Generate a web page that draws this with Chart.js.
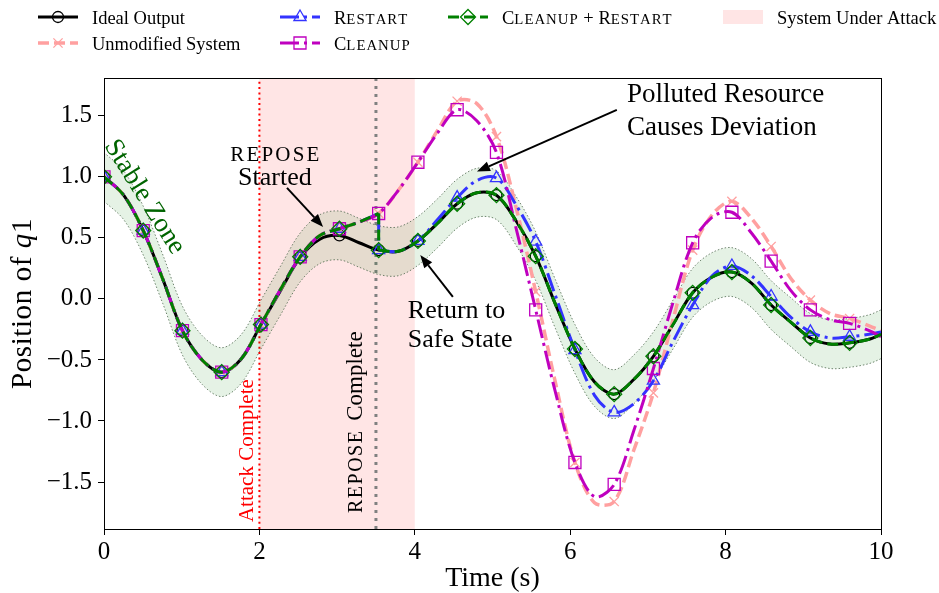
<!DOCTYPE html>
<html>
<head>
<meta charset="utf-8">
<script src="https://cdn.jsdelivr.net/npm/chart.js@4.4.1/dist/chart.umd.min.js"></script>
<style>
html,body{margin:0;padding:0;background:#fff;}
#wrap{width:939px;height:593px;position:relative;}
canvas{display:block;}
</style>
</head>
<body>
<div id="wrap"><canvas id="c" width="939" height="593"></canvas></div>
<script>
// ---------------- data ----------------
const times = [0, 0.253, 0.505, 0.758, 1.010, 1.263, 1.515, 1.768, 2.020, 2.273,
  2.525, 2.778, 3.030, 3.283, 3.535, 3.788, 4.040, 4.293, 4.545, 4.798,
  5.051, 5.303, 5.556, 5.808, 6.061, 6.313, 6.566, 6.818, 7.071, 7.323,
  7.576, 7.828, 8.081, 8.333, 8.586, 8.838, 9.091, 9.343, 9.596, 9.848, 10];

const idealOutput = [1.00, 0.85, 0.56, 0.16, -0.26, -0.50, -0.60, -0.49, -0.21, 0.07,
  0.34, 0.49, 0.52, 0.46, 0.40, 0.39, 0.475, 0.62, 0.78, 0.87,
  0.85, 0.64, 0.35, -0.04, -0.41, -0.68, -0.78, -0.66, -0.47, -0.21,
  0.05, 0.18, 0.22, 0.13, -0.05, -0.19, -0.32, -0.37, -0.36, -0.33, -0.29];

const unmodifiedSystem = [1.00, 0.85, 0.56, 0.16, -0.26, -0.50, -0.60, -0.49, -0.21, 0.08,
  0.345, 0.52, 0.575, 0.63, 0.70, 0.89, 1.12, 1.38, 1.62, 1.60,
  1.33, 0.75, 0.06, -0.68, -1.34, -1.67, -1.66, -1.24, -0.77, -0.17,
  0.40, 0.69, 0.80, 0.66, 0.43, 0.17, -0.01, -0.12, -0.16, -0.22, -0.26];

const restart = [1.00, 0.85, 0.56, 0.16, -0.26, -0.50, -0.60, -0.49, -0.21, 0.08,
  0.345, 0.52, 0.575, 0.63, 0.40, 0.39, 0.475, 0.65, 0.83, 0.97,
  0.99, 0.77, 0.47, 0.03, -0.42, -0.79, -0.93, -0.86, -0.67, -0.35,
  -0.05, 0.19, 0.27, 0.19, 0.02, -0.15, -0.27, -0.32, -0.31, -0.29, -0.27];

const cleanup = [1.00, 0.85, 0.56, 0.16, -0.26, -0.50, -0.60, -0.49, -0.21, 0.08,
  0.345, 0.52, 0.575, 0.63, 0.70, 0.89, 1.12, 1.36, 1.55, 1.46,
  1.20, 0.58, -0.09, -0.76, -1.34, -1.62, -1.52, -1.08, -0.57, -0.03,
  0.46, 0.67, 0.71, 0.54, 0.31, 0.07, -0.09, -0.17, -0.20, -0.26, -0.31];

const cleanupRestart = [1.00, 0.85, 0.56, 0.16, -0.26, -0.50, -0.60, -0.49, -0.21, 0.08,
  0.345, 0.52, 0.575, 0.63, 0.40, 0.39, 0.475, 0.62, 0.78, 0.87,
  0.85, 0.64, 0.35, -0.04, -0.41, -0.68, -0.78, -0.66, -0.47, -0.21,
  0.05, 0.18, 0.22, 0.13, -0.05, -0.19, -0.32, -0.37, -0.36, -0.33, -0.29];

const xTickValues = [0, 2, 4, 6, 8, 10];
const yTickValues = [-1.5, -1.0, -0.5, 0.0, 0.5, 1.0, 1.5];
const attackWindow = [2, 4];
const attackCompleteT = 2;
const reposeCompleteT = 3.5;
const restartJumpT = 3.535;
const stableMargin = 0.2;
const yLimits = [-1.885, 1.81];

// ---------------- styles ----------------
const FONT = '"Liberation Serif", "Times New Roman", serif';
const MARK_STEP = 10 / 99 * 5;
const STY = {
  ideal:   {color: '#000000', dash: [],            marker: 'circle',   r: 5.5, w: 3},
  unmod:   {color: '#ffa0a0', dash: [11, 5],       marker: 'crossRot', r: 6.5, w: 3.5},
  restart: {color: '#3333ff', dash: [19, 5, 3, 5], marker: 'triangle', r: 7,   w: 3},
  cleanup: {color: '#bf00bf', dash: [19, 5, 3, 5], marker: 'rect',     r: 8.5, w: 3},
  cr:      {color: '#008000', dash: [11, 5],       marker: 'rectRot',  r: 7.5, w: 3}
};

function isMarkerTime(x) { const k = x / MARK_STEP; return Math.abs(k - Math.round(k)) < 0.01; }
function pts(arr, from, to) {
  const out = [];
  for (let i = from; i <= to; i++) out.push({x: times[i], y: arr[i]});
  return out;
}
function lineDs(data, st, order, extra) {
  return Object.assign({
    data, borderColor: st.color, borderWidth: st.w, borderDash: st.dash,
    borderCapStyle: 'butt', borderJoinStyle: 'round', tension: 0.33, fill: false, order,
    pointStyle: st.marker,
    pointRadius: c => (c.raw && isMarkerTime(c.raw.x) && !c.raw.noMarker) ? st.r : 0,
    pointHoverRadius: 0, pointBorderColor: st.color, pointBackgroundColor: 'rgba(0,0,0,0)',
    pointBorderWidth: 1.3
  }, extra || {});
}
const last = times.length - 1;
const jIdx = times.indexOf(restartJumpT);
function jumpSeries(arr, st, order) {
  const pre = pts(arr, 0, jIdx - 1);
  pre.push({x: times[jIdx], y: unmodifiedSystem[jIdx], noMarker: true});
  const link = [{x: times[jIdx], y: unmodifiedSystem[jIdx], noMarker: true},
                {x: times[jIdx], y: arr[jIdx], noMarker: true}];
  const post = pts(arr, jIdx, last);
  return [lineDs(pre, st, order), lineDs(link, st, order, {tension: 0}), lineDs(post, st, order)];
}

const upper = idealOutput.map((v, i) => ({x: times[i], y: v + stableMargin}));
const lower = idealOutput.map((v, i) => ({x: times[i], y: v - stableMargin}));

const datasets = [
  {data: upper, fill: '+1', backgroundColor: 'rgba(0,128,0,0.1)', borderColor: 'rgba(70,95,70,0.75)',
   borderWidth: 1, borderDash: [1.5, 2], tension: 0.33, pointRadius: 0, order: 20},
  {data: lower, fill: false, borderColor: 'rgba(70,95,70,0.75)',
   borderWidth: 1, borderDash: [1.5, 2], tension: 0.33, pointRadius: 0, order: 20},
  lineDs(pts(idealOutput, 0, last), STY.ideal, 6),
  lineDs(pts(unmodifiedSystem, 0, last), STY.unmod, 5),
  ...jumpSeries(restart, STY.restart, 4),
  lineDs(pts(cleanup, 0, last), STY.cleanup, 3),
  ...jumpSeries(cleanupRestart, STY.cr, 2)
];

// ---------------- helpers ----------------
function drawMarker(ctx, style, x, y, r, color) {
  ctx.save(); ctx.strokeStyle = color; ctx.lineWidth = 1.3; ctx.setLineDash([]); ctx.beginPath();
  const s3 = Math.sin(2 * Math.PI / 3), c3 = Math.cos(2 * Math.PI / 3);
  if (style === 'circle') ctx.arc(x, y, r, 0, Math.PI * 2);
  else if (style === 'crossRot') { const d = r * Math.SQRT1_2; ctx.moveTo(x - d, y - d); ctx.lineTo(x + d, y + d); ctx.moveTo(x - d, y + d); ctx.lineTo(x + d, y - d); }
  else if (style === 'triangle') { ctx.moveTo(x, y - r); ctx.lineTo(x + s3 * r, y - c3 * r); ctx.lineTo(x - s3 * r, y - c3 * r); ctx.closePath(); }
  else if (style === 'rect') { const s = r * Math.SQRT1_2; ctx.rect(x - s, y - s, 2 * s, 2 * s); }
  else if (style === 'rectRot') { ctx.moveTo(x, y - r); ctx.lineTo(x + r, y); ctx.lineTo(x, y + r); ctx.lineTo(x - r, y); ctx.closePath(); }
  ctx.stroke(); ctx.restore();
}
// small caps: lowercase letters drawn as smaller capitals
function drawSC(ctx, text, x, y, size, color) {
  let cx = x;
  ctx.fillStyle = color; ctx.textAlign = 'left'; ctx.textBaseline = 'alphabetic';
  for (const ch of text) {
    const low = ch !== ch.toUpperCase();
    ctx.font = (low ? size * 0.8 : size) + 'px ' + FONT;
    const g = low ? ch.toUpperCase() : ch;
    ctx.fillText(g, cx, y);
    cx += ctx.measureText(g).width + (low ? 1.0 : 0);
  }
  return cx - x;
}
function arrow(ctx, x0, y0, x1, y1) {
  const ang = Math.atan2(y1 - y0, x1 - x0), L = 13, W = 5;
  const bx = x1 - L * Math.cos(ang), by = y1 - L * Math.sin(ang);
  ctx.save(); ctx.strokeStyle = '#000'; ctx.fillStyle = '#000'; ctx.lineWidth = 2; ctx.setLineDash([]);
  ctx.beginPath(); ctx.moveTo(x0, y0); ctx.lineTo(bx, by); ctx.stroke();
  ctx.beginPath(); ctx.moveTo(x1, y1);
  ctx.lineTo(bx + W * Math.sin(ang), by - W * Math.cos(ang));
  ctx.lineTo(bx - W * Math.sin(ang), by + W * Math.cos(ang));
  ctx.closePath(); ctx.fill(); ctx.restore();
}

// ---------------- plugins ----------------
const backdrop = {
  id: 'backdrop',
  beforeDatasetsDraw(chart) {
    const {ctx, chartArea: a, scales: {x}} = chart;
    ctx.save();
    const x0 = x.getPixelForValue(attackWindow[0]), x1 = x.getPixelForValue(attackWindow[1]);
    ctx.fillStyle = 'rgba(255,0,0,0.1)';
    ctx.fillRect(x0, a.top, x1 - x0, a.bottom - a.top);
    const xa = x.getPixelForValue(attackCompleteT);
    ctx.strokeStyle = '#ff0000'; ctx.lineWidth = 2; ctx.setLineDash([2, 3.3]);
    ctx.beginPath(); ctx.moveTo(xa, a.bottom); ctx.lineTo(xa, a.top); ctx.stroke();
    const xr = x.getPixelForValue(reposeCompleteT);
    ctx.strokeStyle = '#808080'; ctx.lineWidth = 3; ctx.setLineDash([3, 5]);
    ctx.beginPath(); ctx.moveTo(xr, a.bottom); ctx.lineTo(xr, a.top); ctx.stroke();
    ctx.restore();
  }
};

const notes = {
  id: 'notes',
  afterDatasetsDraw(chart) {
    const {ctx, scales: {x, y}} = chart;
    const X = v => x.getPixelForValue(v), Y = v => y.getPixelForValue(v);
    const hasLS = 'letterSpacing' in ctx;
    ctx.save();
    ctx.fillStyle = '#000';
    // REPOSE Started
    ctx.textAlign = 'center'; ctx.textBaseline = 'alphabetic';
    ctx.font = '21px ' + FONT;
    if (hasLS) ctx.letterSpacing = '2.2px';
    ctx.fillText('REPOSE', X(2.20) + 1, Y(1.134));
    if (hasLS) ctx.letterSpacing = '0px';
    ctx.font = '26px ' + FONT;
    ctx.fillText('Started', X(2.20), Y(0.934));
    arrow(ctx, X(2.355), Y(0.91), X(2.82), Y(0.59));
    // Return to Safe State
    ctx.textAlign = 'left';
    ctx.fillText('Return to', X(3.91), Y(-0.156));
    ctx.fillText('Safe State', X(3.91), Y(-0.393));
    arrow(ctx, X(4.49), Y(0.016), X(4.07), Y(0.36));
    // Polluted Resource
    ctx.font = '27px ' + FONT;
    ctx.fillText('Polluted Resource', X(6.73), Y(1.612));
    ctx.fillText('Causes Deviation', X(6.73), Y(1.344));
    arrow(ctx, X(6.60), Y(1.549), X(4.80), Y(1.043));
    // Stable Zone
    ctx.save();
    ctx.translate(X(0.52), Y(0.835)); ctx.rotate(58 * Math.PI / 180);
    ctx.fillStyle = '#006400'; ctx.font = '27px ' + FONT; ctx.textAlign = 'center'; ctx.textBaseline = 'middle';
    ctx.fillText('Stable Zone', 0, 0);
    ctx.restore();
    // Attack Complete
    ctx.save();
    ctx.translate(X(1.918), Y(-1.828)); ctx.rotate(-Math.PI / 2);
    ctx.fillStyle = '#ff0000'; ctx.font = '21px ' + FONT; ctx.textAlign = 'left'; ctx.textBaseline = 'alphabetic';
    ctx.fillText('Attack Complete', 0, 0);
    ctx.restore();
    // REPOSE Complete
    ctx.save();
    ctx.translate(X(3.32), Y(-1.754)); ctx.rotate(-Math.PI / 2);
    ctx.fillStyle = '#000'; ctx.textAlign = 'left'; ctx.textBaseline = 'alphabetic';
    ctx.font = '20px ' + FONT;
    if (hasLS) ctx.letterSpacing = '1.5px';
    ctx.fillText('REPOSE', 0, 0);
    const w = ctx.measureText('REPOSE').width;
    if (hasLS) ctx.letterSpacing = '0px';
    ctx.font = '23px ' + FONT;
    ctx.fillText(' Complete', w + 3, 0);
    ctx.restore();
    ctx.restore();
  }
};

const legendItems = [
  {label: 'Ideal Output', sc: false, st: STY.ideal, col: 0, row: 0},
  {label: 'Unmodified System', sc: false, st: STY.unmod, col: 0, row: 1},
  {label: 'Restart', sc: true, st: STY.restart, col: 1, row: 0},
  {label: 'Cleanup', sc: true, st: STY.cleanup, col: 1, row: 1},
  {label: 'Cleanup + Restart', sc: true, st: STY.cr, col: 2, row: 0},
  {label: 'System Under Attack', sc: false, patch: true, col: 3, row: 0}
];
const LEG_COLS = [38, 280, 448, 723];
const LEG_ROWS = [17, 43];

const frame = {
  id: 'frame',
  afterDraw(chart) {
    const {ctx, chartArea: a} = chart;
    ctx.save();
    ctx.strokeStyle = '#000'; ctx.lineWidth = 1; ctx.setLineDash([]);
    ctx.strokeRect(Math.round(a.left) + 0.5, Math.round(a.top) + 0.5, Math.round(a.right - a.left), Math.round(a.bottom - a.top));
    // legend
    for (const it of legendItems) {
      const hx = LEG_COLS[it.col], cy = LEG_ROWS[it.row];
      if (it.patch) {
        ctx.fillStyle = 'rgba(255,0,0,0.1)';
        ctx.fillRect(hx, cy - 7, 40, 14);
      } else {
        ctx.strokeStyle = it.st.color; ctx.lineWidth = it.st.w; ctx.setLineDash(it.st.dash); ctx.lineCap = 'butt';
        ctx.beginPath(); ctx.moveTo(hx, cy); ctx.lineTo(hx + 40, cy); ctx.stroke();
        ctx.setLineDash([]);
        drawMarker(ctx, it.st.marker, hx + 20, cy, it.st.r, it.st.color);
      }
      const tx = hx + 54, ty = cy + 6.5;
      if (it.sc) drawSC(ctx, it.label, tx, ty, 18.5, '#000');
      else { ctx.font = '18.5px ' + FONT; ctx.fillStyle = '#000'; ctx.textAlign = 'left'; ctx.textBaseline = 'alphabetic'; ctx.fillText(it.label, tx, ty); }
    }
    // y axis title
    ctx.save();
    ctx.translate(31, (a.top + a.bottom) / 2); ctx.rotate(-Math.PI / 2);
    ctx.fillStyle = '#000'; ctx.textBaseline = 'alphabetic'; ctx.textAlign = 'left';
    if ('letterSpacing' in ctx) ctx.letterSpacing = '0.6px';
    const parts = [['Position of ', ''], ['q', 'italic '], ['1', '']];
    let tot = 0;
    for (const [s, st] of parts) { ctx.font = st + '29px ' + FONT; tot += ctx.measureText(s).width; }
    let cx = -tot / 2;
    for (const [s, st] of parts) { ctx.font = st + '29px ' + FONT; ctx.fillText(s, cx, 0); cx += ctx.measureText(s).width; }
    ctx.restore();
    // x axis title
    ctx.fillStyle = '#000'; ctx.font = '28px ' + FONT; ctx.textAlign = 'center'; ctx.textBaseline = 'alphabetic';
    ctx.fillText('Time (s)', (a.left + a.right) / 2, 586);
    ctx.restore();
  }
};

// ---------------- chart ----------------
new Chart(document.getElementById('c'), {
  type: 'line',
  data: {datasets},
  options: {
    responsive: false, animation: false, devicePixelRatio: 1, events: [],
    layout: {padding: {left: 0, right: 58, top: 78, bottom: 0}},
    plugins: {legend: {display: false}, tooltip: {enabled: false}},
    scales: {
      x: {
        type: 'linear', min: 0, max: 10,
        afterBuildTicks: s => { s.ticks = xTickValues.map(v => ({value: v})); },
        afterFit: s => { s.height = 64; },
        ticks: {font: {family: FONT, size: 25}, color: '#000', padding: 2, maxRotation: 0, autoSkip: false,
                callback: v => String(v)},
        grid: {display: true, drawOnChartArea: false, drawTicks: true, tickLength: 6, color: '#000', lineWidth: 1},
        border: {display: false}
      },
      y: {
        type: 'linear', min: yLimits[0], max: yLimits[1],
        afterBuildTicks: s => { s.ticks = yTickValues.map(v => ({value: v})); },
        afterFit: s => { s.width = 104; },
        ticks: {font: {family: FONT, size: 25}, color: '#000', padding: 6, autoSkip: false,
                callback: v => v.toFixed(1).replace('-', '\u2212')},
        grid: {display: true, drawOnChartArea: false, drawTicks: true, tickLength: 6, color: '#000', lineWidth: 1},
        border: {display: false}
      }
    }
  },
  plugins: [backdrop, notes, frame]
});
</script>
</body>
</html>
